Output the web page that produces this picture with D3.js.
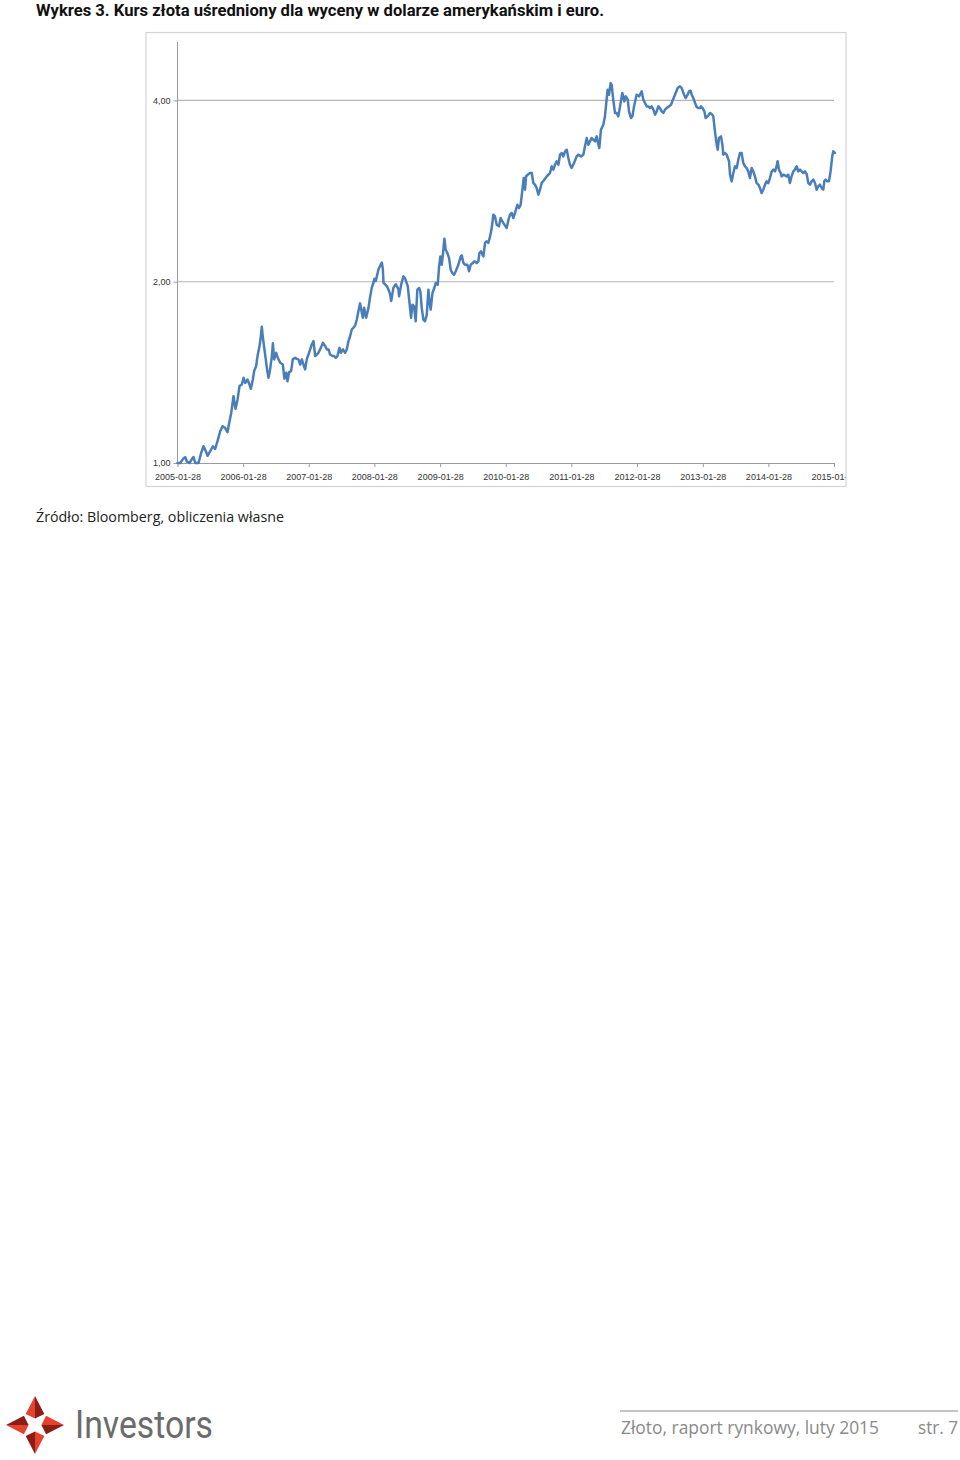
<!DOCTYPE html>
<html>
<head>
<meta charset="utf-8">
<script src="https://cdn.jsdelivr.net/npm/d3@7"></script>
<style>
  html, body { margin: 0; padding: 0; background: #fff; }
  svg { display: block; }
</style>
</head>
<body>
<svg id="chart" width="960" height="1460"></svg>
<script>
// ---------------- DATA ----------------
const startDate = "2005-01-28";
const xTickLabels = ["2005-01-28","2006-01-28","2007-01-28","2008-01-28","2009-01-28","2010-01-28","2011-01-28","2012-01-28","2013-01-28","2014-01-28","2015-01-28"];
const yTicks = [1, 2, 4];
const yTickLabels = ["1,00", "2,00", "4,00"];
// weeks elapsed since startDate
const weeks = [0,2.1,4.3,6.1,7.4,9.6,11.4,12.7,14.1,16.7,18.8,20.7,22.5,23.9,26.0,28.1,29.9,31.8,33.9,35.8,37.9,39.7,41.1,42.7,44.5,46.1,47.7,49.3,51.1,52.5,53.8,55.6,57.2,58.3,59.9,60.9,62.5,63.6,65.2,66.2,67.0,67.8,69.1,71.0,72.3,73.6,75.0,75.8,76.8,78.4,79.7,81.6,83.7,85.0,86.4,87.4,88.7,90.3,91.6,93.5,94.8,96.1,97.5,98.8,100.1,101.4,102.8,104.1,105.4,106.7,108.1,109.4,110.7,112.0,113.9,115.5,117.3,118.7,120.0,121.3,123.2,124.5,125.8,127.1,128.7,129.8,131.4,133.2,134.5,135.9,137.2,138.5,139.8,141.2,142.5,143.8,145.1,146.5,147.3,148.3,149.9,151.8,153.1,154.4,155.7,156.5,157.6,158.4,159.7,161.0,162.4,163.2,163.7,165.0,166.3,167.6,169.0,169.8,171.6,173.5,175.6,
176.1,177.7,179.5,180.8,183.0,184.8,185.6,186.7,188.0,189.3,190.6,192.0,193.0,194.1,195.4,196.7,198.1,199.4,200.2,201.2,202.6,204.1,205.2,206.8,207.9,208.9,210.0,211.3,212.1,213.1,214.5,215.8,217.1,218.4,219.8,221.1,223.2,225.1,225.9,227.2,228.5,230.4,231.7,233.0,234.6,235.9,237.8,239.1,239.9,241.2,242.3,243.1,244.4,245.7,247.0,248.4,249.7,251.0,252.3,253.7,255.5,256.8,258.2,259.8,261.6,263.0,264.3,265.6,266.9,268.2,270.1,271.4,272.7,274.1,275.1,276.2,277.0,278.3,280.1,281.5,282.8,284.1,285.4,286.8,288.1,289.4,291.5,293.4,294.7,296.0,297.4,298.7,300.0,301.3,302.7,304.0,305.3,306.6,308.0,309.3,310.6,311.9,313.2,315.1,317.2,318.5,320.7,322.5,323.8,325.2,326.5,327.8,329.1,330.5,331.8,333.1,333.9,335.2,336.5,338.4,339.7,341.0,341.8,342.9,344.2,345.0,346.3,347.7,
349.0,350.3,351.7,353.5,355.1,356.2,357.8,358.8,360.4,361.5,362.8,364.9,366.8,368.9,370.2,371.5,372.9,374.2,375.5,376.8,378.2,379.5,380.8,382.1,383.4,384.8,386.1,387.4,388.7,390.6,392.2,393.2,394.3,395.9,397.5,399.3,400.7,402.0,403.8,405.4,406.5,407.8,408.6,409.9,411.3,412.6,413.9,415.2,416.0,417.3,418.7,419.7,421.3,423.2,424.5,425.8,427.1,428.5,429.3,430.3,431.9,433.0,433.8,435.1,436.4,438.3,439.1,440.4,441.7,443.0,444.4,445.7,447.0,448.3,449.6,451.0,452.3,453.6,454.9,456.3,457.6,458.9,460.2,461.6,462.9,464.2,465.5,466.9,468.2,469.5,470.8,472.2,473.5,474.8,476.1,476.9,478.0,479.3,480.1,481.4,482.7,484.1,485.4,486.7,488.0,489.4,490.7,492.0,493.3,494.7,496.0,497.3,498.6,500.0,501.3,502.6,503.9,505.3,506.6,507.9,509.2,510.5,511.9,513.2,514.0,515.1,516.4,517.7,519.0,520.3,521.1,522.5];
const values = [1.00,1.00,1.015,1.023,1.006,1.00,1.015,1.023,1.00,1.00,1.039,1.066,1.046,1.028,1.046,1.066,1.055,1.087,1.129,1.151,1.143,1.125,1.166,1.211,1.291,1.230,1.274,1.342,1.350,1.385,1.358,1.376,1.350,1.328,1.376,1.421,1.448,1.505,1.564,1.620,1.684,1.620,1.544,1.439,1.385,1.430,1.505,1.580,1.486,1.524,1.495,1.467,1.457,1.380,1.412,1.367,1.415,1.421,1.486,1.495,1.489,1.486,1.457,1.486,1.457,1.430,1.489,1.514,1.544,1.573,1.594,1.505,1.514,1.524,1.553,1.583,1.564,1.544,1.544,1.514,1.505,1.505,1.495,1.505,1.553,1.524,1.544,1.524,1.544,1.594,1.625,1.666,1.677,1.692,1.731,1.788,1.841,1.776,1.743,1.811,1.743,1.811,1.889,1.955,1.992,2.023,2.005,2.039,2.097,2.124,2.151,2.097,1.992,1.980,1.967,1.942,1.905,1.857,1.955,1.980,1.942,
1.891,1.977,2.041,2.028,1.965,1.809,1.741,1.832,1.820,1.719,1.940,1.952,1.927,1.809,1.730,1.719,1.763,1.940,1.855,1.797,1.915,1.952,1.990,1.977,2.121,2.203,2.134,2.260,2.357,2.260,2.231,2.189,2.094,2.067,2.054,2.081,2.134,2.203,2.212,2.148,2.134,2.134,2.081,2.134,2.148,2.162,2.148,2.162,2.231,2.246,2.218,2.203,2.319,2.333,2.319,2.378,2.455,2.584,2.567,2.487,2.471,2.551,2.519,2.487,2.455,2.535,2.584,2.601,2.551,2.601,2.684,2.650,2.684,2.843,2.972,2.843,2.991,3.010,3.030,3.030,2.916,2.898,2.861,2.789,2.843,2.916,2.953,2.991,3.010,3.030,3.108,3.069,3.128,3.168,3.128,3.250,3.271,3.229,3.292,3.312,3.209,3.128,3.088,3.148,3.229,3.250,3.229,3.250,3.355,3.463,3.376,3.420,3.463,3.441,3.420,3.486,3.420,3.333,3.576,3.645,3.763,4.010,4.166,4.087,4.273,4.246,4.010,3.811,
3.812,3.763,3.909,4.114,3.985,4.062,4.010,3.835,3.739,3.763,3.909,4.088,4.062,4.140,4.010,3.960,3.909,3.909,3.884,3.909,3.860,3.787,3.835,3.909,3.884,3.835,3.812,3.860,3.884,3.909,3.934,3.985,4.036,4.114,4.193,4.220,4.193,4.114,4.036,4.088,4.140,4.150,4.088,4.036,3.960,3.899,3.884,3.884,3.909,3.884,3.835,3.739,3.763,3.812,3.797,3.763,3.553,3.377,3.313,3.464,3.486,3.377,3.250,3.271,3.250,3.169,3.010,2.935,3.030,3.108,3.088,3.190,3.271,3.271,3.148,3.108,3.088,3.049,2.972,3.088,3.049,2.991,2.916,2.898,2.861,2.807,2.843,2.898,2.935,2.916,2.972,3.049,3.069,3.049,3.108,3.169,3.069,3.030,2.991,3.010,3.002,2.991,3.010,2.916,2.991,3.049,3.069,3.108,3.049,3.069,3.049,3.030,3.049,3.018,2.916,2.898,2.935,2.954,2.916,2.843,2.880,2.898,2.861,2.843,2.935,2.954,2.935,2.935,3.049,3.229,3.292,3.271];

// ---------------- DRAW ----------------
const svg = d3.select("#chart");
const parse = d3.utcParse("%Y-%m-%d");
const t0 = parse(startDate);
const series = weeks.map((w, i) => ({ date: new Date(t0.getTime() + w * 7 * 864e5), value: values[i] }));
const tickDates = xTickLabels.map(parse);

const x = d3.scaleUtc().domain([tickDates[0], tickDates[tickDates.length - 1]]).range([177.5, 834]);
const y = d3.scaleLog().base(2).domain([1, 5]).range([463, 42]);

const labelFont = "'Liberation Sans', Arial, sans-serif";

// Title
svg.append("text").attr("x", 36).attr("y", 16)
  .attr("font-family", "Roboto, 'Liberation Sans', sans-serif").attr("font-weight", "bold")
  .attr("font-size", 17).attr("fill", "#111")
  .attr("textLength", 568).attr("lengthAdjust", "spacingAndGlyphs")
  .text("Wykres 3. Kurs złota uśredniony dla wyceny w dolarze amerykańskim i euro.");

// Chart frame
svg.append("rect").attr("x", 146).attr("y", 32.5).attr("width", 700).attr("height", 454)
  .attr("fill", "#fff").attr("stroke", "#d4d4d4").attr("stroke-width", 1.2);

svg.append("defs").append("clipPath").attr("id", "frameClip")
  .append("rect").attr("x", 146).attr("y", 32).attr("width", 699.5).attr("height", 455);

// Gridlines
svg.append("g").selectAll("line").data(yTicks.filter(d => d > 1)).join("line")
  .attr("x1", 177.5).attr("x2", 834).attr("y1", d => y(d)).attr("y2", d => y(d))
  .attr("stroke", "#b5b5b5").attr("stroke-width", 1.1);

// Y axis
const yAxis = d3.axisLeft(y).tickValues(yTicks).tickFormat((d, i) => yTickLabels[i]).tickSize(4).tickPadding(3);
const gy = svg.append("g").attr("transform", "translate(177.5,0)").call(yAxis);
gy.select(".domain").attr("stroke", "#9a9a9a").attr("d", `M0,${y(5)}V${y(1)}`);
gy.selectAll(".tick line").attr("stroke", "#9a9a9a");
gy.selectAll(".tick text").attr("font-family", labelFont).attr("font-size", 9).attr("fill", "#333");

// X axis (wrapped in an untransformed clipped group)
const xAxis = d3.axisBottom(x).tickValues(tickDates).tickFormat((d, i) => xTickLabels[i]).tickSize(4).tickSizeOuter(0).tickPadding(4);
const gx = svg.append("g").attr("clip-path", "url(#frameClip)")
  .append("g").attr("transform", `translate(0,${y(1)})`).call(xAxis);
gx.select(".domain").attr("stroke", "#9a9a9a");
gx.selectAll(".tick line").attr("stroke", "#9a9a9a");
gx.selectAll(".tick text").attr("font-family", labelFont).attr("font-size", 9).attr("fill", "#333").attr("dy", "1.05em");

// Line
const line = d3.line().x(d => x(d.date)).y(d => y(d.value));
svg.append("path").datum(series).attr("d", line)
  .attr("fill", "none").attr("stroke", "#4a7ebb").attr("stroke-width", 2.5)
  .attr("stroke-linejoin", "round").attr("stroke-linecap", "round");

// Source
svg.append("text").attr("x", 36).attr("y", 522)
  .attr("font-family", "'Open Sans', 'Noto Sans', sans-serif").attr("font-size", 14).attr("fill", "#222")
  .attr("textLength", 248).attr("lengthAdjust", "spacingAndGlyphs")
  .text("Źródło: Bloomberg, obliczenia własne");

// ---------------- FOOTER ----------------
const logo = svg.append("g").attr("transform", "translate(35,1425)");
const R = 29;
const pt = (ang, r) => [Math.sin(ang * Math.PI / 180) * r, -Math.cos(ang * Math.PI / 180) * r];
[0, 90, 180, 270].forEach(a => {
  const tip = pt(a, R), sL = pt(a - 40, R * 0.5), sR = pt(a + 40, R * 0.5), inn = pt(a, R * 0.22);
  logo.append("path").attr("d", d3.line()([tip, sR, inn])).attr("fill", "#8c1c14");
  logo.append("path").attr("d", d3.line()([tip, inn, sL])).attr("fill", "#e5412f");
});

svg.append("text").attr("x", 75).attr("y", 1438)
  .attr("font-family", "Roboto, 'Liberation Sans', sans-serif").attr("font-size", 38).attr("fill", "#6b6b6b")
  .attr("textLength", 138).attr("lengthAdjust", "spacingAndGlyphs").text("Investors");

svg.append("line").attr("x1", 620).attr("x2", 958).attr("y1", 1411).attr("y2", 1411)
  .attr("stroke", "#b0b0b0").attr("stroke-width", 1.5);

svg.append("text").attr("x", 621).attr("y", 1434)
  .attr("font-family", "'Open Sans', 'Noto Sans', sans-serif").attr("font-size", 18).attr("fill", "#8a8a8a")
  .attr("textLength", 258).attr("lengthAdjust", "spacingAndGlyphs").text("Złoto, raport rynkowy, luty 2015");

svg.append("text").attr("x", 918).attr("y", 1434)
  .attr("font-family", "'Open Sans', 'Noto Sans', sans-serif").attr("font-size", 18).attr("fill", "#8a8a8a")
  .attr("textLength", 40).attr("lengthAdjust", "spacingAndGlyphs").text("str. 7");
</script>
</body>
</html>
